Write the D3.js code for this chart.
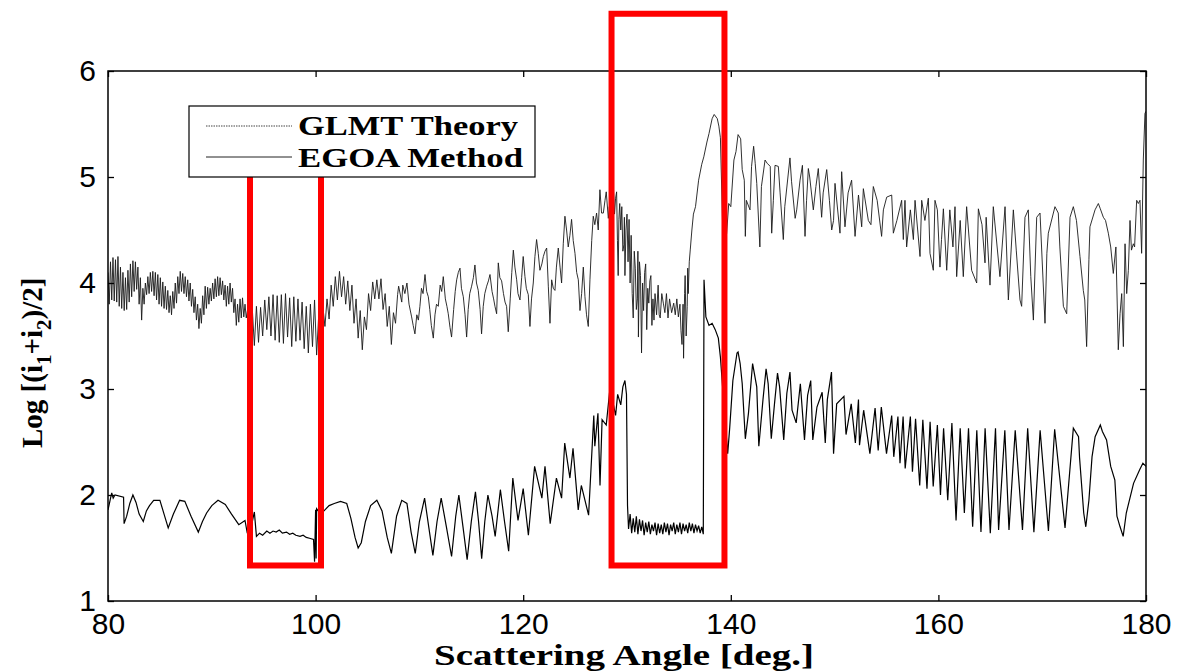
<!DOCTYPE html>
<meta charset="utf-8">
<style>
  body { margin: 0; background: #fff; }
  .tick text { font: 30px "Liberation Sans", Arial, sans-serif; fill: #000; }
  .axis-title { font: bold 29px "Liberation Serif", "Times New Roman", serif; }
  .legend text { font: bold 27px "Liberation Serif", "Times New Roman", serif; }
</style>
<svg width="1183" height="672"></svg>
<script src="https://cdnjs.cloudflare.com/ajax/libs/d3/7.8.5/d3.min.js"></script>
<script>
// axis settings
var xTicks = [80, 100, 120, 140, 160, 180];
var yTicks = [1, 2, 3, 4, 5, 6];

// upper curve (GLMT theory), [angle, log value]
var glmt80 = [[80.00,4.10],[80.12,3.80],[80.24,4.20],[80.36,3.84],[80.48,4.24],[80.60,3.83],[80.72,4.22],[80.84,3.82],[80.96,4.25],[81.08,3.78],[81.20,4.15],[81.32,3.76],[81.44,4.10],[81.56,3.74],[81.68,4.05],[81.80,3.75],[81.92,4.12],[82.04,3.82],[82.16,4.18],[82.28,3.87],[82.40,4.21],[82.52,3.92],[82.64,4.20],[82.76,3.94],[82.88,4.15],[83.00,3.80],[83.12,4.05],[83.24,3.65],[83.36,3.95],[83.48,3.80],[83.60,4.00],[83.72,3.89],[83.84,4.06],[83.96,3.90],[84.08,4.10],[84.20,3.92],[84.32,4.11],[84.44,3.88],[84.56,4.10],[84.68,3.84],[84.80,4.08],[84.92,3.80],[85.04,4.05],[85.16,3.78],[85.28,4.01],[85.40,3.76],[85.52,3.97],[85.64,3.75],[85.76,3.93],[85.88,3.72],[86.00,3.88],[86.12,3.70],[86.24,3.92],[86.36,3.76],[86.48,4.00],[86.60,3.81],[86.72,4.06],[86.84,3.90],[86.96,4.11],[87.08,3.92],[87.20,4.09],[87.32,3.90],[87.44,4.06],[87.56,3.87],[87.68,4.03],[87.80,3.83],[87.92,4.00],[88.04,3.78],[88.16,3.94],[88.28,3.72],[88.40,3.87],[88.52,3.65],[88.64,3.80],[88.76,3.57],[88.88,3.76],[89.00,3.62],[89.12,3.88],[89.24,3.70],[89.36,3.97],[89.48,3.76],[89.60,3.96],[89.72,3.80],[89.84,3.95],[89.96,3.83],[90.08,4.00],[90.20,3.85],[90.32,4.04],[90.44,3.87],[90.56,4.06],[90.68,3.88],[90.80,4.05],[90.92,3.89],[91.04,4.02],[91.16,3.84],[91.28,3.98],[91.40,3.78],[91.52,3.97],[91.64,3.80],[91.76,4.00],[91.88,3.82],[92.00,3.95],[92.12,3.72],[92.24,3.85],[92.36,3.60],[92.48,3.80],[92.60,3.63],[92.72,3.85],[92.84,3.67],[92.96,3.86],[93.08,3.68],[93.20,3.80],[93.32,3.67]];

var glmt93 = [[93.50,3.78],[93.70,3.48],[93.90,3.76],[94.10,3.41],[94.30,3.78],[94.50,3.44],[94.70,3.77],[94.90,3.50],[95.10,3.84],[95.30,3.56],[95.50,3.87],[95.70,3.50],[95.90,3.89],[96.10,3.46],[96.30,3.88],[96.50,3.44],[96.70,3.89],[96.90,3.43],[97.10,3.90],[97.30,3.49],[97.50,3.86],[97.70,3.40],[97.90,3.87],[98.10,3.45],[98.30,3.85],[98.50,3.46],[98.70,3.82],[98.90,3.38],[99.10,3.78],[99.30,3.34],[99.50,3.80],[99.70,3.40],[99.90,3.84],[100.10,3.32],[100.30,3.70],[100.50,3.62],[100.70,3.78],[100.90,3.59],[101.10,3.85],[101.30,3.66],[101.50,3.98],[101.70,3.78],[101.90,4.06],[102.10,3.84],[102.30,4.11],[102.50,3.87],[102.70,4.06],[102.90,3.80],[103.10,4.02],[103.30,3.74],[103.50,3.98],[103.70,3.62],[103.90,3.85],[104.10,3.48],[104.30,3.74],[104.50,3.37],[104.70,3.68],[104.90,3.56],[105.10,3.90],[105.30,3.74],[105.50,4.01],[105.70,3.85],[105.90,4.03],[106.10,3.85],[106.30,4.04],[106.50,3.75],[106.70,3.90],[106.90,3.59],[107.10,3.78],[107.30,3.42],[107.50,3.72],[107.70,3.62],[107.90,3.89]];

var glmt108 = [[108.0,3.97],[108.3,3.82],[108.4,3.98],[108.6,3.90],[108.8,4.00],[109.0,3.80],[109.25,3.68],[109.4,3.60],[109.57,3.52],[109.75,3.70],[109.9,3.65],[110.05,3.78],[110.2,3.95],[110.35,3.90],[110.54,4.08],[110.7,3.92],[110.86,3.87],[111.0,3.75],[111.15,3.60],[111.34,3.48],[111.5,3.70],[111.65,3.80],[111.82,3.78],[112.0,3.98],[112.15,3.92],[112.3,4.06],[112.5,3.85],[112.65,3.78],[112.78,3.71],[112.95,3.58],[113.1,3.49],[113.3,3.75],[113.45,3.92],[113.59,4.03],[113.75,4.10],[113.91,4.14],[114.05,3.95],[114.23,3.87],[114.4,3.70],[114.55,3.49],[114.7,3.75],[114.85,3.90],[115.03,3.97],[115.2,4.05],[115.35,4.17],[115.5,4.00],[115.67,3.93],[115.85,3.75],[115.99,3.52],[116.15,3.78],[116.3,3.90],[116.48,3.97],[116.65,4.02],[116.8,4.08],[117.0,3.92],[117.15,3.85],[117.28,3.78],[117.44,3.71],[117.6,4.19],[117.75,4.05],[117.92,4.02],[118.1,3.90],[118.25,3.82],[118.4,3.78],[118.56,3.54],[118.75,3.85],[118.9,4.10],[119.05,4.31],[119.2,4.15],[119.37,4.03],[119.5,3.90],[119.69,3.84],[119.85,4.05],[120.0,4.25],[120.17,4.06],[120.3,3.95],[120.49,3.89],[120.65,3.59],[120.8,3.85],[120.97,4.00],[121.13,4.25],[121.29,4.41],[121.45,4.28],[121.61,4.12],[121.8,4.18],[121.94,4.25],[122.1,4.30],[122.26,4.33],[122.42,3.97],[122.58,3.62],[122.74,4.03],[122.9,3.95],[123.06,3.93],[123.2,4.15],[123.38,4.33],[123.55,4.15],[123.7,4.00],[123.86,4.37],[124.02,4.63],[124.18,4.50],[124.34,4.34],[124.5,4.45],[124.66,4.60],[124.82,4.40],[124.99,4.28],[125.15,4.10],[125.31,4.03],[125.47,3.74],[125.63,3.90],[125.79,4.15],[125.95,3.87],[126.1,3.70],[126.27,3.59],[126.43,4.03],[126.6,4.40],[126.75,4.63],[126.9,4.55],[127.07,4.66],[127.23,4.50],[127.39,4.88],[127.55,4.66],[127.72,4.66],[127.88,4.78],[128.0,4.86],[128.2,4.61]];

var glmt128 = [[128.3,4.72],[128.4,4.55],[128.5,4.86],[128.6,4.60],[128.7,4.88],[128.8,4.65],[128.9,4.80],[129.0,4.86],[129.08,4.40],[129.15,4.07],[129.22,4.60],[129.3,4.75],[129.4,4.50],[129.5,4.72],[129.6,4.30],[129.7,4.36],[129.75,4.62],[129.8,4.07],[129.9,4.50],[130.0,4.65],[130.1,4.20],[130.2,4.60],[130.3,4.00],[130.4,4.45],[130.5,3.90],[130.6,3.67],[130.7,4.30],[130.8,4.14],[130.9,3.75],[131.0,3.85],[131.05,4.30],[131.1,3.49],[131.2,4.20],[131.3,4.07],[131.4,3.34],[131.5,4.00],[131.6,3.74],[131.7,4.10],[131.8,4.18],[131.9,3.56],[132.0,3.95],[132.1,3.81],[132.2,4.02],[132.3,4.07],[132.4,3.60],[132.5,3.85],[132.6,3.65],[132.7,3.90],[132.85,3.70],[133.0,3.98],[133.1,3.70],[133.2,3.67],[133.35,3.90],[133.5,3.81],[133.65,3.72],[133.8,3.90],[133.95,3.67],[134.1,3.85],[134.3,3.72],[134.5,3.81],[134.65,3.70],[134.8,3.85],[134.95,3.68],[135.1,3.80],[135.2,3.55],[135.3,3.42],[135.4,3.80],[135.45,3.29],[135.55,3.90],[135.6,4.07],[135.7,3.50],[135.8,3.78],[135.85,4.14],[135.9,3.90],[136.0,4.20],[136.1,4.32],[136.25,4.50],[136.4,4.65],[136.6,4.72],[136.9,4.97],[137.2,5.12],[137.4,5.19],[137.7,5.33],[137.9,5.41],[138.2,5.55],[138.4,5.59],[138.7,5.55],[138.85,5.48],[139.0,5.37],[139.3,4.20]];

var glmt139 = [[139.6,4.47],[139.8,4.75],[140.0,4.72],[140.3,5.16],[140.5,5.24],[140.7,5.40],[140.95,5.36],[141.1,5.07],[141.3,4.97],[141.4,4.44],[141.5,4.78],[141.85,4.69],[142.0,5.10],[142.2,5.29],[142.35,5.13],[142.5,4.94],[142.8,4.34],[142.95,4.91],[143.3,5.16],[143.5,5.13],[143.8,5.10],[143.94,4.47],[144.1,4.78],[144.26,5.11],[144.58,5.10],[144.75,4.85],[145.06,4.41],[145.2,4.72],[145.7,5.18],[145.85,4.96],[146.2,4.61],[146.35,4.69],[146.67,4.97],[146.9,5.11],[147.15,4.44],[147.3,4.78],[147.47,5.08],[147.6,5.00],[147.95,4.69],[148.2,4.91],[148.43,5.08],[148.75,4.62],[148.9,4.85],[149.24,5.07],[149.5,4.78],[149.72,4.50],[149.9,4.59],[150.04,4.94],[150.52,4.47],[150.68,5.05],[151.0,4.53],[151.3,4.85],[151.64,4.97],[151.97,4.44],[152.3,4.83],[152.61,4.53],[152.77,4.89],[153.25,4.59],[153.5,4.55],[153.73,4.91],[154.1,4.78],[154.53,4.44],[154.7,4.69],[155.02,4.81],[155.5,4.83],[155.66,4.47],[156.0,4.59],[156.46,4.78],[156.62,4.41],[156.78,4.78],[156.94,4.34],[157.3,4.69],[157.59,4.41],[157.75,4.78],[158.23,4.25],[158.39,4.78],[158.7,4.59],[159.03,4.80],[159.19,4.28],[159.51,4.12],[159.67,4.78],[159.9,4.69],[160.15,4.15],[160.3,4.41],[160.48,4.70],[160.8,4.12],[161.1,4.69],[161.4,4.34],[161.6,4.72],[161.76,4.06],[162.1,4.59],[162.4,4.06],[162.72,4.72],[163.2,4.12],[163.69,4.00],[163.85,4.70],[164.2,4.55],[164.49,4.19],[164.6,4.62],[164.97,3.98],[165.29,4.72],[165.93,4.06],[166.42,4.72],[166.74,3.84],[167.22,4.69],[167.5,4.31],[167.86,3.84],[168.02,3.78],[168.34,4.62],[168.66,4.69],[168.9,4.06],[169.15,3.65],[169.47,4.62],[169.79,4.66],[170.27,3.62],[170.45,4.28],[170.59,4.47],[171.23,4.72],[171.55,4.66],[171.7,4.34],[172.04,3.78],[172.36,3.71],[172.68,4.62],[173.0,4.72],[173.3,4.59],[173.64,4.25],[173.96,3.93],[174.1,3.84],[174.28,3.40],[174.5,4.22],[174.6,4.53],[175.09,4.69],[175.41,4.75],[175.6,4.70],[175.89,4.62],[176.1,4.59],[176.37,4.47],[176.6,4.34],[176.85,4.09],[177.1,4.34],[177.33,3.37],[177.5,3.71],[177.66,3.90],[177.82,3.40],[177.98,4.37],[178.14,3.90],[178.3,4.12],[178.46,4.59],[178.6,4.31],[178.78,4.37],[178.9,4.34],[179.1,4.78],[179.26,4.75],[179.42,4.78],[179.58,4.28],[179.74,5.16],[179.9,5.60],[180.0,5.62]];

// lower curve (EGOA method)
var egoa80 = [[80.0,1.86],[80.2,1.95],[80.36,2.02],[80.5,1.97],[80.67,2.00],[81.5,1.98],[81.55,1.73],[81.8,1.80],[82.1,1.92],[82.4,2.00],[82.7,1.93],[83.0,1.82],[83.4,1.75],[83.7,1.85],[84.0,1.90],[84.4,1.95],[85.0,1.95],[85.4,1.82],[85.8,1.69],[86.3,1.82],[86.9,1.95],[87.4,1.94],[88.0,1.80],[88.7,1.65],[89.1,1.75],[89.5,1.83],[90.0,1.90],[90.6,1.95],[91.3,1.91],[91.9,1.82],[92.6,1.72],[93.2,1.76],[93.4,1.65],[93.8,1.70],[94.1,1.84],[94.3,1.61],[94.6,1.64],[94.9,1.62],[95.3,1.66],[95.6,1.64],[95.9,1.66],[96.2,1.65],[96.5,1.67],[96.8,1.64],[97.2,1.65],[97.5,1.63],[97.8,1.64],[98.1,1.62],[98.5,1.61],[98.8,1.62],[99.1,1.60],[99.5,1.59],[99.8,1.58],[99.9,1.37],[100.0,1.86],[100.05,1.40],[100.1,1.87],[100.5,1.82],[100.9,1.86],[101.3,1.90],[101.8,1.92],[102.4,1.94],[103.0,1.92],[103.4,1.78],[103.8,1.60],[104.1,1.50],[104.4,1.55],[104.8,1.75],[105.3,1.90],[105.9,1.95],[106.4,1.85],[106.9,1.60],[107.3,1.45],[107.8,1.80]];

var egoa108 = [[108.3,1.95],[108.8,1.92],[109.2,1.65],[109.6,1.45],[110.0,1.75],[110.5,1.97],[110.9,1.70],[111.3,1.43],[111.7,1.75],[112.1,1.97],[112.6,1.70],[113.1,1.42],[113.5,1.80],[113.8,2.00],[114.2,1.70],[114.6,1.39],[115.0,1.75],[115.4,2.03],[115.7,1.75],[116.0,1.40],[116.3,1.75],[116.6,2.00],[117.0,1.80],[117.3,1.61],[117.8,2.05],[118.2,1.75],[118.6,1.47],[119.0,2.16],[119.5,1.76],[120.0,2.06],[120.5,1.62],[121.1,2.27],[121.8,1.97],[122.1,2.27],[122.6,1.73],[123.2,2.16],[123.7,1.97],[124.0,2.49],[124.5,2.16],[124.8,2.44],[125.3,1.86],[125.6,2.09],[126.3,1.81],[126.8,2.75],[126.9,2.46],[127.2,2.77],[127.4,2.09],[127.6,2.71],[128.0,2.66]];

var egoa128 = [[128.3,2.95],[128.6,2.90],[128.9,2.75],[129.1,2.95],[129.4,2.85],[129.6,3.02],[129.8,3.08],[129.95,2.95],[130.05,1.90],[130.15,1.68],[130.3,1.82],[130.45,1.64],[130.6,1.78],[130.75,1.65],[130.9,1.80],[131.05,1.63],[131.2,1.77],[131.35,1.66],[131.5,1.76],[131.65,1.62],[131.8,1.74],[131.95,1.65],[132.1,1.75],[132.25,1.63],[132.4,1.72],[132.55,1.66],[132.7,1.74],[132.85,1.62],[133.0,1.73],[133.15,1.64],[133.3,1.72],[133.45,1.63],[133.6,1.74],[133.75,1.65],[133.9,1.73],[134.05,1.62],[134.2,1.72],[134.35,1.66],[134.5,1.74],[134.65,1.63],[134.8,1.72],[134.95,1.65],[135.1,1.74],[135.25,1.63],[135.4,1.73],[135.55,1.66],[135.7,1.72],[135.85,1.64],[136.0,1.74],[136.15,1.66],[136.3,1.73],[136.45,1.64],[136.6,1.72],[136.75,1.66],[136.9,1.71],[137.05,1.64],[137.2,1.70],[137.35,1.63],[137.42,4.03],[137.6,3.68],[137.9,3.60],[138.2,3.62],[138.5,3.56],[138.8,3.48],[139.0,3.30],[139.3,2.90]];

var egoa139 = [[139.7,2.39],[139.9,2.64],[140.2,3.08],[140.6,3.34],[140.7,3.35],[140.9,3.24],[141.1,3.05],[141.4,2.53],[141.7,2.77],[142.1,3.24],[142.5,3.02],[142.7,2.46],[143.1,2.90],[143.4,3.19],[143.6,3.05],[143.9,2.53],[144.2,2.85],[144.5,3.15],[144.7,3.02],[145.1,2.52],[145.4,2.96],[145.7,3.16],[145.9,2.80],[146.3,2.68],[146.7,3.05],[147.1,2.52],[147.4,2.94],[147.7,3.08],[147.9,2.52],[148.3,2.83],[148.8,2.97],[149.1,2.49],[149.3,2.90],[149.7,3.16],[149.9,2.39],[150.2,2.86],[150.9,2.93],[151.1,2.57],[151.6,2.86],[152.0,2.49],[152.3,2.90],[152.4,2.47],[152.8,2.80],[153.4,2.39],[153.9,2.82],[154.2,2.42],[154.5,2.83],[155.0,2.39],[155.5,2.75],[155.7,2.36],[156.1,2.74],[156.3,2.30],[156.6,2.74],[156.8,2.25],[157.3,2.74],[157.5,2.22],[157.8,2.72],[158.2,2.09],[158.5,2.71],[158.9,2.06],[159.2,2.69],[159.5,2.08],[159.9,2.66],[160.2,2.00],[160.5,2.63],[160.9,1.95],[161.3,2.68],[161.7,1.76],[162.1,2.63],[162.5,1.83],[162.9,2.63],[163.3,1.70],[163.7,2.61],[164.1,1.65],[164.5,2.63],[165.0,1.64],[165.5,2.63],[165.8,1.67],[166.4,2.61],[166.8,1.67],[167.4,2.61],[168.1,1.67],[168.6,2.63],[169.2,1.65],[169.8,2.61],[170.6,1.66],[171.2,2.62],[172.2,1.69],[173.0,2.63],[173.5,2.55],[173.6,2.35],[174.0,1.83],[174.2,1.70],[174.5,1.95],[174.8,2.36],[175.1,2.55],[175.6,2.66],[175.8,2.60],[176.2,2.52],[176.6,2.27],[177.0,2.14],[177.2,1.80],[177.5,1.70],[177.8,1.61],[178.1,1.83],[178.8,2.11],[179.4,2.24],[179.7,2.30],[180.0,2.27]];

// highlighted regions [angle from, angle to, log from, log to]
var boxes = [[93.68, 100.52, 1.335, 5.03], [128.51, 139.39, 1.335, 6.54]];

var glmt = glmt80.concat(glmt93, glmt108, glmt128, glmt139);
var egoa = egoa80.concat(egoa108, egoa128, egoa139);

var svg = d3.select("svg"),
    margin = {top: 71, right: 37, bottom: 71, left: 108},
    width = +svg.attr("width") - margin.left - margin.right,
    height = +svg.attr("height") - margin.top - margin.bottom;

var x = d3.scaleLinear().domain([80, 180]).range([0, width]);
var y = d3.scaleLinear().domain([1, 6]).range([height, 0]);

var g = svg.append("g").attr("transform", "translate(" + margin.left + "," + margin.top + ")");

svg.append("defs").append("clipPath").attr("id", "plot-clip")
  .append("rect").attr("width", width).attr("height", height);

var line = d3.line()
    .x(function(d) { return x(d[0]); })
    .y(function(d) { return y(d[1]); });

var plot = g.append("g").attr("clip-path", "url(#plot-clip)");

plot.append("path").datum(glmt)
    .attr("fill", "none")
    .attr("stroke", "#1a1a1a")
    .attr("stroke-width", 0.9)
    .attr("d", line);

plot.append("path").datum(egoa)
    .attr("fill", "none")
    .attr("stroke", "#000")
    .attr("stroke-width", 1.2)
    .attr("d", line);

// axes: ticks inside on all 4 sides
g.append("g").attr("transform", "translate(0," + height + ")")
  .call(d3.axisBottom(x).tickValues(xTicks).tickSizeInner(-6).tickSizeOuter(0).tickPadding(12).tickFormat(d3.format("d")));
g.append("g")
  .call(d3.axisTop(x).tickValues(xTicks).tickSizeInner(-6).tickSizeOuter(0).tickFormat(""));
g.append("g")
  .call(d3.axisLeft(y).tickValues(yTicks).tickSizeInner(-6).tickSizeOuter(0).tickPadding(12).tickFormat(d3.format("d")));
g.append("g").attr("transform", "translate(" + width + ",0)")
  .call(d3.axisRight(y).tickValues(yTicks).tickSizeInner(-6).tickSizeOuter(0).tickFormat(""));

g.selectAll(".domain").remove();
g.selectAll(".tick line").attr("stroke", "#000").attr("stroke-width", 1.3);

g.append("rect")
    .attr("width", width).attr("height", height)
    .attr("fill", "none").attr("stroke", "#000").attr("stroke-width", 1.5);

// red boxes
g.selectAll(".hl").data(boxes).enter().append("rect")
    .attr("class", "hl")
    .attr("x", function(d) { return x(d[0]); })
    .attr("y", function(d) { return y(d[3]); })
    .attr("width", function(d) { return x(d[1]) - x(d[0]); })
    .attr("height", function(d) { return y(d[2]) - y(d[3]); })
    .attr("fill", "none")
    .attr("stroke", "#ff0000")
    .attr("stroke-width", 6);

// legend
var leg = g.append("g").attr("class", "legend").attr("transform", "translate(81,35)");
leg.append("rect").attr("width", 346).attr("height", 71)
    .attr("fill", "#fff").attr("stroke", "#000").attr("stroke-width", 1.2);
leg.append("line").attr("x1", 17).attr("x2", 103).attr("y1", 20).attr("y2", 20)
    .attr("stroke", "#444").attr("stroke-width", 1).attr("stroke-dasharray", "1.5,1");
leg.append("line").attr("x1", 17).attr("x2", 103).attr("y1", 51).attr("y2", 51)
    .attr("stroke", "#222").attr("stroke-width", 1);
leg.append("text").attr("x", 109).attr("y", 29)
    .attr("textLength", 220).attr("lengthAdjust", "spacingAndGlyphs").text("GLMT Theory");
leg.append("text").attr("x", 109).attr("y", 61)
    .attr("textLength", 225).attr("lengthAdjust", "spacingAndGlyphs").text("EGOA Method");

// axis titles
svg.append("text").attr("class", "axis-title")
    .attr("x", 434).attr("y", 665)
    .attr("textLength", 380).attr("lengthAdjust", "spacingAndGlyphs")
    .text("Scattering Angle [deg.]");

var yt = svg.append("text").attr("class", "axis-title")
    .attr("transform", "translate(42,448) rotate(-90)");
yt.append("tspan").text("Log [(i");
yt.append("tspan").attr("dy", 9).attr("font-size", "21px").text("1");
yt.append("tspan").attr("dy", -9).text("+i");
yt.append("tspan").attr("dy", 9).attr("font-size", "21px").text("2");
yt.append("tspan").attr("dy", -9).text(")/2]");
</script>
